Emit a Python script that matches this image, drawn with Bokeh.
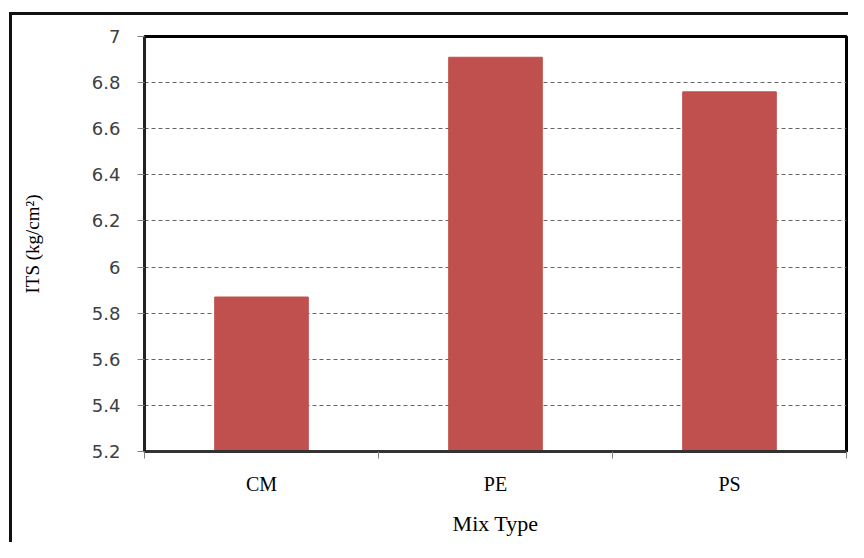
from bokeh.plotting import figure
from bokeh.models import Range1d, FixedTicker, ColumnDataSource
from bokeh.embed import file_html
from bokeh.resources import INLINE

categories = ["CM", "PE", "PS"]
its_values = [5.87, 6.91, 6.76]
y_ticks = [5.2, 5.4, 5.6, 5.8, 6.0, 6.2, 6.4, 6.6, 6.8, 7.0]
y_tick_labels = ["5.2", "5.4", "5.6", "5.8", "6", "6.2", "6.4", "6.6", "6.8", "7"]

x_centers = [i + 0.5 for i in range(len(categories))]
x_bounds = [float(i) for i in range(len(categories) + 1)]

source = ColumnDataSource(dict(x=x_centers, top=its_values, cat=categories))

p = figure(
    width=848, height=542,
    frame_width=702, frame_height=415,
    min_border_left=144, min_border_right=2, min_border_top=36, min_border_bottom=91,
    x_range=Range1d(0, len(categories)), y_range=Range1d(5.2, 7.0),
    output_backend="svg", toolbar_location=None,
)
# outer chart border (left and top edges only are visible in the reference)
p.styles = {
    "background-color": "white",
    "background-image": "linear-gradient(#111111, #111111), linear-gradient(#111111, #111111)",
    "background-size": "3px 100%, 100% 3px",
    "background-position": "9px 12px, 9px 12px",
    "background-repeat": "no-repeat",
}
p.background_fill_color = "white"
p.border_fill_color = None
p.outline_line_color = "black"
p.outline_line_width = 3

p.vbar(x="x", top="top", bottom=5.2, width=0.4, source=source,
       fill_color="#C0504D", line_color="#C0504D")

# y axis
p.yaxis.ticker = FixedTicker(ticks=y_ticks)
p.yaxis.major_label_overrides = {t: l for t, l in zip(y_ticks, y_tick_labels)}
p.yaxis.minor_tick_line_color = None
p.yaxis.major_tick_in = 0
p.yaxis.major_tick_out = 7
p.yaxis.major_tick_line_color = "#808080"
p.yaxis.axis_line_color = "#222222"
p.yaxis.axis_line_width = 3
p.yaxis.major_label_text_font = "DejaVu Sans"
p.yaxis.major_label_text_font_size = "18px"
p.yaxis.major_label_text_color = "#404040"
p.yaxis.major_label_standoff = 17
p.yaxis.axis_label = "ITS (kg/cm²)"
p.yaxis.axis_label_text_font = "Liberation Serif"
p.yaxis.axis_label_text_font_style = "normal"
p.yaxis.axis_label_text_font_size = "19px"
p.yaxis.axis_label_text_color = "black"
p.yaxis.axis_label_standoff = 46

# x axis
p.xaxis.ticker = FixedTicker(ticks=x_centers, minor_ticks=x_bounds)
p.xaxis.major_label_overrides = {x: c for x, c in zip(x_centers, categories)}
p.xaxis.major_tick_line_color = None
p.xaxis.major_tick_in = 0
p.xaxis.major_tick_out = 0
p.xaxis.minor_tick_in = 0
p.xaxis.minor_tick_out = 7
p.xaxis.minor_tick_line_color = "#808080"
p.xaxis.axis_line_color = "#333333"
p.xaxis.axis_line_width = 3
p.xaxis.major_label_text_font = "Liberation Serif"
p.xaxis.major_label_text_font_size = "20px"
p.xaxis.major_label_text_color = "black"
p.xaxis.major_label_standoff = 14
p.xaxis.axis_label = "Mix Type"
p.xaxis.axis_label_text_font = "Liberation Serif"
p.xaxis.axis_label_text_font_style = "normal"
p.xaxis.axis_label_text_font_size = "22px"
p.xaxis.axis_label_text_color = "black"
p.xaxis.axis_label_standoff = 13

# grid
p.xgrid.grid_line_color = None
p.ygrid.ticker = FixedTicker(ticks=y_ticks)
p.ygrid.grid_line_color = "#666666"
p.ygrid.grid_line_dash = "4 3"
p.ygrid.grid_line_width = 1

open("out.html", "w").write(file_html(p, INLINE))
